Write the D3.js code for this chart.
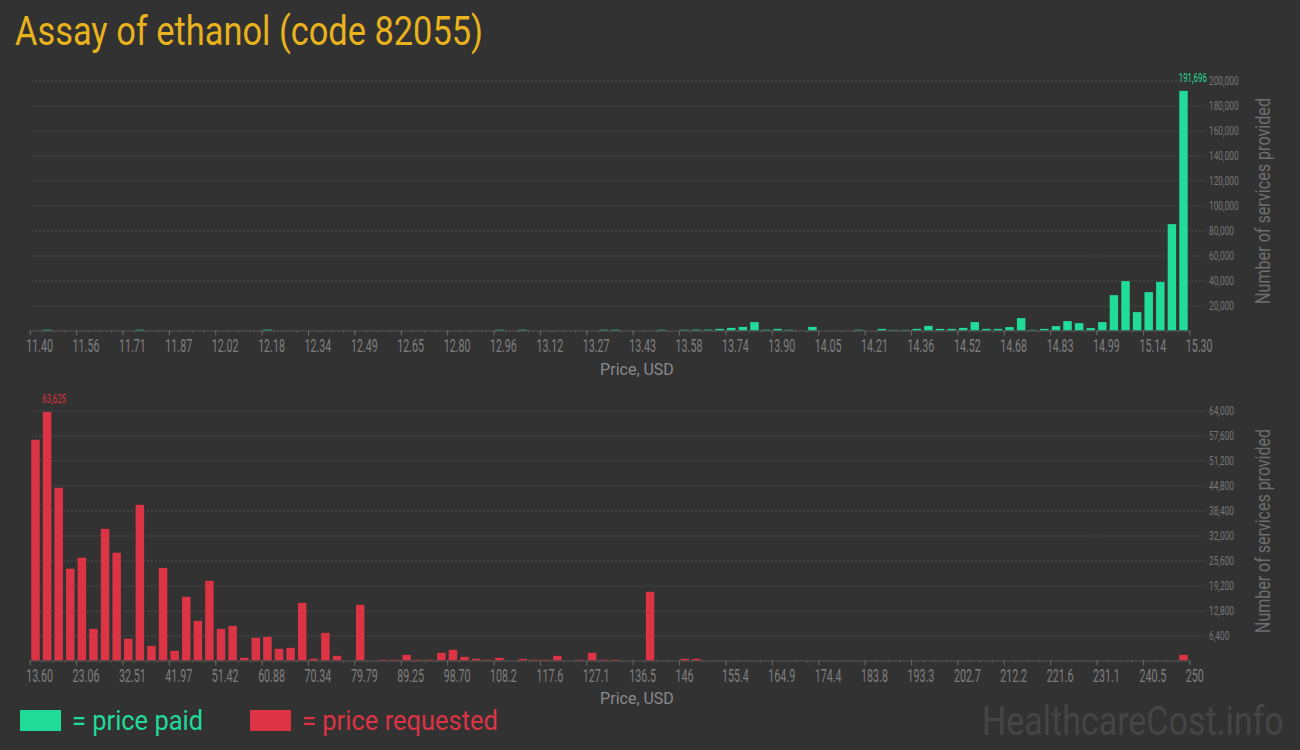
<!DOCTYPE html>
<html>
<head>
<meta charset="utf-8">
<script src="https://cdn.jsdelivr.net/npm/d3@7"></script>
<style>
  html, body { margin: 0; padding: 0; background: #323232; }
  svg { display: block; }
  text { font-family: Roboto, "Noto Sans", sans-serif; }
</style>
</head>
<body>
<svg id="chart" width="1300" height="750"></svg>
<script>
// ---------- data ----------
const title = "Assay of ethanol (code 82055)";

const paidTickLabels = ["11.40","11.56","11.71","11.87","12.02","12.18","12.34","12.49","12.65","12.80",
  "12.96","13.12","13.27","13.43","13.58","13.74","13.90","14.05","14.21","14.36",
  "14.52","14.68","14.83","14.99","15.14","15.30"];

const requestedTickLabels = ["13.60","23.06","32.51","41.97","51.42","60.88","70.34","79.79","89.25","98.70",
  "108.2","117.6","127.1","136.5","146","155.4","164.9","174.4","183.8","193.3",
  "202.7","212.2","221.6","231.1","240.5","250"];

// number of services per price bin (100 bins each)
const paidValues = [
  0, 600, 0, 0, 0, 0, 0, 0, 0, 600,
  0, 0, 0, 0, 0, 0, 0, 0, 0, 0,
  700, 0, 0, 0, 0, 0, 0, 0, 0, 0,
  0, 0, 0, 0, 0, 0, 0, 0, 0, 0,
  600, 0, 600, 0, 0, 0, 0, 0, 0, 600,
  600, 0, 0, 0, 600, 0, 600, 700, 700, 1300,
  2100, 2900, 6700, 600, 1300, 600, 0, 2900, 0, 0,
  0, 600, 0, 1300, 500, 500, 1300, 3700, 1300, 1300,
  2100, 6700, 1300, 1300, 2700, 9900, 500, 1300, 3500, 7500,
  5900, 1900, 6700, 28300, 39500, 14700, 30700, 38900, 85100, 191696
];

const requestedValues = [
  56500, 63625, 44200, 23500, 26300, 8100, 33700, 27600, 5550, 39850,
  3750, 23700, 2470, 16300, 10150, 20400, 8100, 8870, 680, 5800,
  6060, 2990, 3240, 14760, 430, 7080, 1190, 0, 14250, 0,
  200, 200, 1450, 200, 200, 1960, 2730, 940, 430, 200,
  680, 0, 430, 200, 200, 1190, 0, 200, 1960, 200,
  200, 0, 0, 17580, 0, 0, 430, 430, 0, 0,
  0, 0, 0, 0, 0, 0, 0, 0, 0, 0,
  0, 0, 0, 0, 0, 0, 0, 0, 0, 0,
  0, 0, 0, 0, 0, 0, 0, 0, 0, 0,
  0, 0, 0, 0, 0, 0, 0, 0, 0, 1450
];

const paidYTicks = [20000, 40000, 60000, 80000, 100000, 120000, 140000, 160000, 180000, 200000];
const requestedYTicks = [6400, 12800, 19200, 25600, 32000, 38400, 44800, 51200, 57600, 64000];

const legendItems = ["= price paid", "= price requested"];
const xAxisTitle = "Price, USD";
const yAxisTitle = "Number of services provided";
const watermark = "HealthcareCost.info";

// ---------- styles ----------
const GREEN = "#21db9b";
const RED = "#dc3444";
const SX = 0.61; // condensed look for small numeric labels

const svg = d3.select("#chart");

svg.append("text")
  .attr("x", 15).attr("y", 45)
  .attr("font-size", 41)
  .attr("fill", "#e8b31c")
  .attr("textLength", 468)
  .attr("lengthAdjust", "spacingAndGlyphs")
  .text(title);

function drawPanel(cfg) {
  const { values, tickLabels, yTicks, yMax, y0, y1, color, titleY, yTitleCenter, labelW } = cfg;
  const xLeft = 29.7, xRight = 1189.3, gridLeft = 32, gridRight = 1205;
  const n = values.length;
  const g = svg.append("g");

  const xBand = d3.scaleBand().domain(d3.range(n)).range([xLeft, xRight])
    .paddingInner(0.27).paddingOuter(0.135);
  const xLin = d3.scaleLinear().domain([0, n]).range([xLeft, xRight]);
  const y = d3.scaleLinear().domain([0, yMax]).range([y0, y1]);

  // grid + right y-axis labels
  const yAxis = d3.axisRight(y).tickValues(yTicks)
    .tickSize(-(gridRight - gridLeft)).tickPadding(4)
    .tickFormat(d3.format(","));
  const ya = g.append("g").attr("transform", `translate(${gridRight},0)`).call(yAxis);
  ya.select(".domain").remove();
  ya.selectAll(".tick line").attr("stroke", "#4e4e4e").attr("stroke-dasharray", "2,2");
  ya.selectAll(".tick text")
    .attr("fill", "#777").attr("font-size", 13)
    .attr("font-family", "Roboto, sans-serif")
    .attr("x", 4 / 0.64).attr("transform", "scale(0.64,1)");

  // bars
  g.selectAll("rect.bar").data(values).join("rect")
    .attr("class", "bar")
    .attr("x", (d, i) => xBand(i))
    .attr("width", xBand.bandwidth())
    .attr("y", d => y(d))
    .attr("height", d => y0 - y(d))
    .attr("fill", color);

  // minor ticks
  const minor = d3.axisBottom(xLin).tickValues(d3.range(0, n + 1)).tickSize(2).tickFormat("");
  const mi = g.append("g").attr("transform", `translate(0,${y0})`).call(minor);
  mi.select(".domain").attr("stroke", "#555");
  mi.selectAll(".tick line").attr("stroke", "#5c5c5c");

  // major ticks
  const major = d3.axisBottom(xLin).tickValues(d3.range(0, n + 1, 4)).tickSize(5)
    .tickFormat((d, i) => tickLabels[i]);
  const ma = g.append("g").attr("transform", `translate(0,${y0})`).call(major);
  ma.select(".domain").remove();
  ma.selectAll(".tick line").attr("stroke", "#6a6a6a");
  ma.selectAll(".tick text")
    .attr("fill", "#7f7f7f").attr("font-size", 17.5)
    .attr("font-family", "Roboto, sans-serif")
    .attr("text-anchor", "start")
    .attr("dy", 0).attr("y", 21.5)
    .attr("x", -4 / SX).attr("transform", `scale(${SX},1)`);

  // max value label
  const maxI = d3.maxIndex(values);
  g.append("text")
    .attr("transform", `translate(${xBand(maxI) - 0.5},${y(values[maxI]) - 9}) scale(0.63,1)`)
    .attr("font-size", 12.5)
    .attr("fill", color)
    .text(d3.format(",")(values[maxI]));

  // x axis title
  g.append("text")
    .attr("x", 637).attr("y", titleY)
    .attr("text-anchor", "middle")
    .attr("font-size", 16).attr("fill", "#8a8a8a")
    .text(xAxisTitle);

  // y axis title
  g.append("text")
    .attr("transform", `translate(1270,${yTitleCenter}) rotate(-90)`)
    .attr("text-anchor", "middle")
    .attr("font-size", 19.5).attr("fill", "#6e6e6e")
    .attr("textLength", labelW).attr("lengthAdjust", "spacingAndGlyphs")
    .text(yAxisTitle);
}

drawPanel({ values: paidValues, tickLabels: paidTickLabels, yTicks: paidYTicks, yMax: 200000,
  y0: 330.5, y1: 80.5, color: GREEN, titleY: 375, yTitleCenter: 201, labelW: 206 });
drawPanel({ values: requestedValues, tickLabels: requestedTickLabels, yTicks: requestedYTicks, yMax: 64000,
  y0: 660.5, y1: 410.5, color: RED, titleY: 704, yTitleCenter: 531, labelW: 204 });

// legend
const lg = svg.append("g");
const legendColors = [GREEN, RED];
const legendX = [20, 250];
const legendW = [131, 196];
legendItems.forEach((t, i) => {
  lg.append("rect").attr("x", legendX[i]).attr("y", 710).attr("width", 41).attr("height", 21)
    .attr("fill", legendColors[i]);
  lg.append("text").attr("x", legendX[i] + 52).attr("y", 730)
    .attr("font-size", 28).attr("fill", legendColors[i])
    .attr("textLength", legendW[i]).attr("lengthAdjust", "spacingAndGlyphs")
    .text(t);
});

// watermark (condensed via horizontal scale)
svg.append("text")
  .attr("transform", "translate(982,735) scale(0.85,1)")
  .attr("font-size", 40).attr("fill", "#454545")
  .text(watermark);
</script>
</body>
</html>
